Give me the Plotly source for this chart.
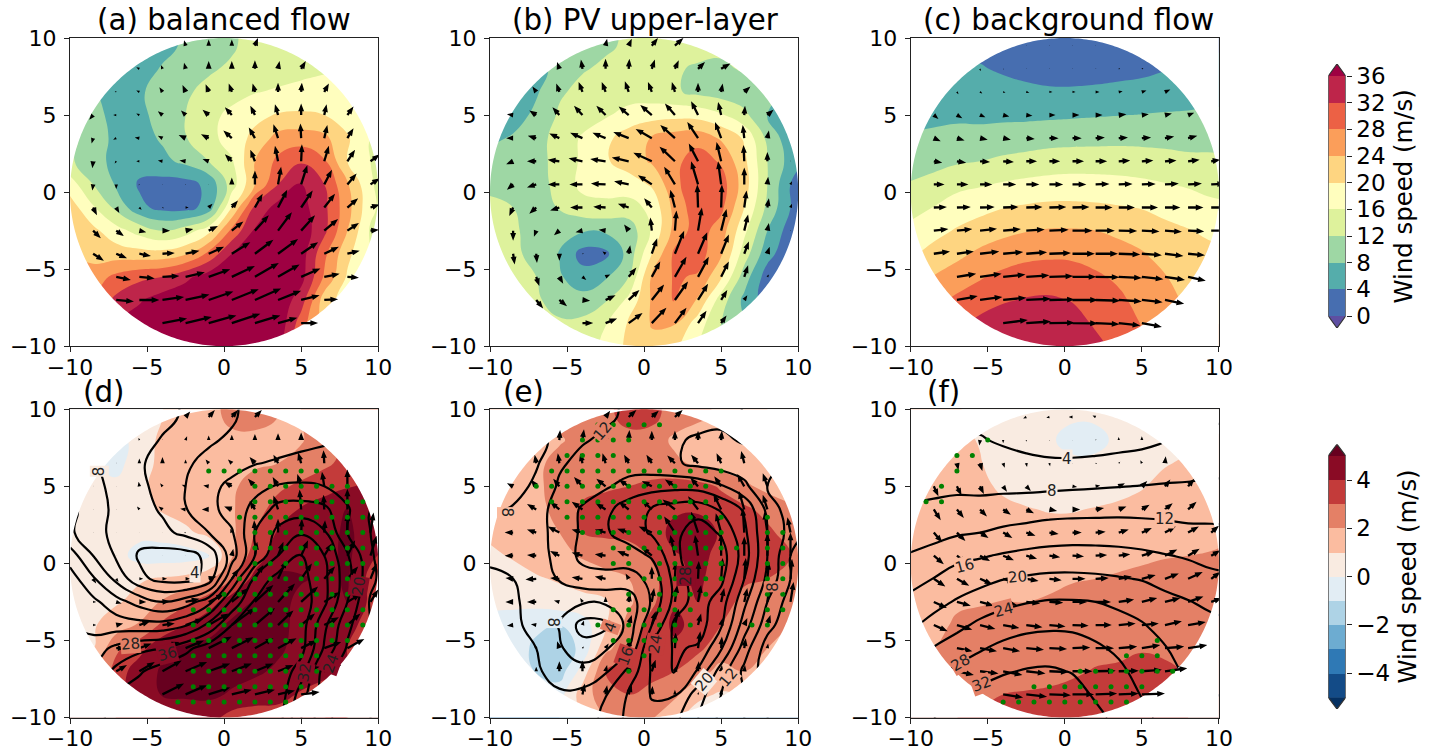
import math
import numpy as np
import plotly.graph_objects as go

W, H = 1438, 756
GRID_X = [-10, -8.5, -7, -5.5, -4, -2.5, -1, 0.5, 2, 3.5, 5, 6.5, 8, 9.5, 11]
GRID_Y = [11, 9.5, 8, 6.5, 5, 3.5, 2, 0.5, -1, -2.5, -4, -5.5, -7, -8.5, -10]
ARROW_X = [-8.5, -7, -5.5, -4, -2.5, -1, 0.5, 2, 3.5, 5, 6.5, 8, 9.5]
ARROW_Y = [9.5, 8, 6.5, 5, 3.5, 2, 0.5, -1, -2.5, -4, -5.5, -7, -8.5]
ARROW_START = [4, 2, 1, 0, 0, 0, 0, 0, 0, 0, 1, 1, 3]

speed_levels = [0, 4, 8, 12, 16, 20, 24, 28, 32, 36]
speed_colours = ["#5e4fa2", "#476eb0", "#55adab", "#9ed7a4", "#def29c", "#fffebe",
                 "#fed581", "#fb9e5a", "#ec6145", "#be254a", "#9e0142"]
diff_levels = [-5, -4, -3, -2, -1, 0, 1, 2, 3, 4, 5]
diff_colours = ["#053061", "#134b87", "#2f79b5", "#6dacd1", "#aed3e6", "#e2edf4",
                "#f9ebe1", "#fbbca0", "#e48066", "#c33b3a", "#8a0b25", "#67001f"]

field_a = [
    [7.5, 7, 6.5, 6.5, 7, 8.5, 10, 11.5, 13.5, 14.5, 15, 15.5, 16, 16, 16],
    [7.5, 7, 6.5, 6.5, 8.3, 9.5, 11.5, 12.6, 13.5, 14.2, 15, 15.5, 16, 16, 16],
    [8.5, 8.3, 6.5, 7.5, 9.5, 11.5, 13, 14.5, 15.8, 16.5, 17, 17.5, 17.5, 17, 16.5],
    [10.5, 9.5, 6.5, 7, 9.5, 12, 14.8, 17, 19, 20.3, 20.6, 20, 18, 16.5, 16],
    [13, 10, 7, 6.5, 8.5, 11.8, 14.5, 18, 21, 25.5, 26, 25, 20.5, 16, 14],
    [12.5, 10, 6.5, 5.5, 7, 9, 12, 15.5, 24, 29, 31.5, 28.5, 20, 16, 14],
    [18, 12, 7.5, 3.5, 2.5, 2.5, 5, 14, 24, 32, 36.5, 32, 24.5, 16.5, 13],
    [22, 16.5, 11, 5, 2.8, 2.5, 5.5, 20, 33, 37.5, 37.5, 33, 25.5, 17, 13],
    [24, 21, 17.5, 14.5, 12, 14, 18.5, 29, 36.5, 39, 38.5, 33, 24, 15.5, 13],
    [24, 22.5, 22, 21.5, 21.5, 23.5, 29, 36, 39, 40, 38, 29, 21, 16, 13],
    [27, 26, 29, 31, 32, 35, 38, 39, 40, 39.5, 37.5, 27.5, 19.5, 16, 13],
    [29, 29, 33, 35.5, 38, 39, 40, 40, 40, 39, 34, 22, 18, 16, 13],
    [32, 34, 36, 38, 40, 40, 40, 40, 40, 39, 30, 22, 18, 16, 13],
    [34, 35, 37, 39, 40, 40, 40, 40, 40, 38, 28, 21, 18, 16, 13],
]
field_b = [
    [9, 9, 9, 10, 11, 11.5, 12.5, 13.5, 14, 14, 13, 12, 12, 12, 12],
    [7, 7, 7, 9, 11.7, 12.6, 13, 13, 12.6, 11.3, 11.2, 12.5, 13, 13, 13],
    [6, 6, 7.5, 11.5, 13, 13.5, 14, 13.5, 12.5, 11, 10, 9.5, 9, 8, 8],
    [5, 6, 9, 12.5, 14, 15.5, 17.5, 18.5, 18.8, 18.5, 16.5, 13, 8, 6, 6],
    [7, 8.5, 10.5, 13.5, 16.5, 19, 22, 24.3, 26, 26.5, 23.5, 19.5, 11, 5.5, 4],
    [10, 10, 10, 14, 16.5, 19.5, 22, 24.5, 27, 30, 27.5, 21, 12, 6.5, 2],
    [11, 10, 10, 13.5, 17, 17.5, 18, 20.5, 27, 31, 30, 22, 12, 4, 1],
    [13, 12, 10, 12.3, 14.5, 15, 14.5, 17, 25.5, 30.5, 29, 20, 11, 4, 1],
    [14, 12.8, 10, 9, 8.5, 8.7, 9.5, 16.5, 25.5, 30, 26, 17, 8, 2, 0],
    [14, 13, 10.5, 7.8, 2.5, 3, 9.5, 20, 29, 30, 24.5, 14, 5.5, 1, 0],
    [14, 14, 12, 8.5, 5.5, 7.5, 12, 24.5, 28.5, 27.5, 20.5, 10, 2, 0, 0],
    [14, 14, 12.5, 10.5, 9.5, 11.5, 17, 24.5, 28.5, 23.5, 14, 7, 2, 0, 0],
    [14, 14, 14, 12.5, 13, 15.8, 20.5, 24.3, 24.3, 18, 12, 8, 4, 2, 0],
    [14, 14, 14, 13, 14, 17, 21, 23, 21, 16, 11, 8, 4, 2, 0],
]
field_c = [
    [3.5, 3.5, 3, 3, 2.5, 2, 2, 2, 2, 2.2, 2.5, 2.8, 3, 3.5, 3.5],
    [5, 4.8, 4.6, 4.3, 3.5, 2.8, 2.5, 2.4, 2.5, 2.8, 3, 3.8, 4.5, 5, 5],
    [6, 6, 6, 5.8, 5.4, 4.9, 4.5, 4.5, 4.7, 5, 5.5, 6, 6.4, 7, 7],
    [7, 7.2, 7.4, 7.2, 7.2, 7.2, 7.3, 7.5, 7.7, 7.9, 8.1, 8.3, 8.4, 8.5, 8.5],
    [8.4, 8.7, 9, 9.2, 9.7, 10, 10.5, 10.7, 10.8, 10.9, 10.9, 10.8, 10.5, 10.7, 10.6],
    [10.3, 10.8, 11.5, 12, 12.8, 13.4, 13.9, 14.1, 14.1, 14.1, 13.8, 13.4, 13, 12.8, 12.7],
    [12.3, 13.3, 15, 15.6, 16.4, 17, 17.4, 17.6, 17.5, 17.2, 16.8, 16.2, 15.6, 15, 14.7],
    [14.7, 16.1, 17.7, 18.8, 19.9, 20.5, 20.9, 20.9, 20.7, 20.3, 19.8, 18.9, 17.9, 16.8, 16.5],
    [17, 18.7, 20.4, 21.8, 23, 23.8, 24.3, 24.3, 24, 23.2, 22.3, 21, 20.2, 19.2, 18.6],
    [19.3, 21.4, 23, 24.8, 26, 27, 27.3, 27.2, 26.5, 25.4, 24.3, 22.6, 21.2, 21, 20.5],
    [22, 24.2, 25.9, 27.6, 29, 29.7, 30, 29.7, 28.6, 27.3, 25.5, 24.2, 22.4, 22, 22],
    [25, 26.8, 28.8, 30.2, 31.6, 32.3, 32.5, 31.8, 30, 28.8, 26.7, 25, 23.5, 23, 23],
    [28, 29.5, 31, 33, 34, 34.5, 34.5, 33.5, 31.5, 30, 27.8, 26, 24.5, 24, 24],
    [31, 32, 34, 36, 36, 36, 36, 35, 33, 31, 29, 27, 25, 25, 25],
]
field_d = [
    [.5, .3, .2, .3, 1, 1.3, 1.6, 2.3, 2.4, 2, 2, 2.5, 3, 3, 3],
    [-.2, -.2, -.3, .3, 1.3, 1.6, 1.7, 1.7, 1.7, 1.7, 1.9, 2.7, 3, 3, 3],
    [.3, 0, -.3, .5, 1.3, 1.5, 1.6, 1.7, 1.8, 2, 2.4, 2.8, 3.3, 3.5, 3.5],
    [.5, .3, .2, .8, 1.3, 1.5, 1.6, 1.8, 2.5, 2.8, 3.2, 3.6, 3.9, 4, 4],
    [.4, .4, .4, .6, 1.1, 1.4, 1.6, 1.9, 2.6, 3.4, 4.1, 4.5, 5.1, 4.5, 4],
    [.7, .5, .3, .3, .4, .8, 1.3, 1.8, 3, 4.1, 4.5, 4.6, 5.2, 4.5, 4],
    [.8, .7, .4, -.4, -.5, -.5, -.2, 1.9, 3.5, 4.5, 4.6, 4.7, 5.2, 4.2, 3.5],
    [.7, .7, .7, .9, 1.1, 1.3, 1.8, 3, 4.3, 5.2, 5.1, 4.8, 5.1, 3.7, 3],
    [.7, .8, .9, 1.3, 2.1, 2.8, 3.6, 4.5, 5.1, 5.4, 4.7, 4.6, 5, 3.8, 3],
    [.8, .9, 1.5, 2.1, 3.2, 4, 4.6, 5.2, 5.3, 5.4, 4.6, 4.5, 4.4, 3.5, 3],
    [1, 1, 2.8, 3.6, 4.8, 5.2, 5.3, 5.3, 5.3, 5.2, 4.6, 4.4, 4, 3.5, 3],
    [2, 2, 3.4, 4.6, 5.1, 5.5, 5.4, 5.3, 5.2, 4.8, 4.5, 4.3, 4, 3.5, 3],
    [3, 3, 3.7, 4.3, 5.1, 5.2, 5.2, 4.9, 4.5, 4.3, 3.9, 3.5, 3.5, 3, 3],
    [3, 3, 3, 3.7, 3.9, 4.2, 4.4, 3.6, 3.5, 3.6, 3.5, 3, 3, 3, 3],
]
field_e = [
    [1.5, 1.5, 2, 2.3, 2.5, 2.7, 3.4, 3.3, 2.5, 2.2, 1.8, 1.5, 1, 1, 1],
    [1, 1, 1.4, 1.9, 2.3, 2.5, 2.6, 2.5, 1.8, 1.4, 1.6, 1.3, 1, 1, 1],
    [1.5, 1.5, 1.8, 2.3, 2.5, 2.6, 2.6, 2.5, 2.2, 1.8, 1.5, 1.4, .9, .9, .9],
    [1.3, 1.3, 1.8, 2.4, 2.7, 2.8, 3, 3.2, 3.4, 3.3, 2.9, 2.2, 1.7, 1.5, 1.5],
    [1.4, 1.4, 1.8, 2.2, 3.2, 3.6, 3.7, 3.5, 3.8, 3.9, 3.4, 3.2, 2.7, 2.2, 2],
    [1.2, 1.3, 1.5, 2, 3, 3.2, 3.3, 3.4, 4.4, 4.4, 3.9, 3.6, 3.2, 2.6, 2.5],
    [.8, 1.1, 1.4, 1.7, 2.1, 2.4, 2.5, 3.1, 3.9, 4.3, 3.7, 3.5, 3.2, 3, 2.5],
    [.5, .6, .9, 1.1, 1.4, 1.7, 2, 2.7, 3.7, 4.2, 3.5, 3.1, 3, 2.5, 2],
    [.2, .2, .3, .6, .7, .9, 1.8, 2.8, 3.9, 4, 3.3, 2.8, 2.4, 2.2, 2],
    [-.3, -.4, -.7, -1, -.5, .9, 2.4, 3.4, 4.2, 3.7, 3, 2.5, 2.2, 2, 2],
    [-.2, -.3, -1.3, -1.7, -.7, 1.7, 2.7, 3.6, 3.8, 3.2, 2.5, 2.2, 2, 2, 2],
    [-.2, -.2, -1.1, -1.5, .4, 3, 3.3, 3.3, 3, 2.4, 1.7, 2, 1.8, 1.8, 1.8],
    [0, 0, 0, -.4, 1.5, 2.6, 3, 2.7, 2.2, 1.2, .9, 1, 1, 1, 1],
    [0, 0, 0, 0, 1, 2, 2.3, 2.1, 1.2, .6, .5, 1, 1, 1, 1],
]
field_f = [
    [1.2, 1.2, 1.1, .7, .3, .2, .2, .2, .2, .3, .5, .7, .8, 1, 1],
    [1.2, 1.2, 1.2, .95, .4, .3, .2, -.5, -.4, .3, .5, .7, .85, 1, 1.1],
    [1.2, 1.3, 1.2, 1.05, .6, .4, .3, .3, .3, .45, .6, .95, 1.1, 1.2, 1.3],
    [1.3, 1.3, 1.3, 1.2, .85, .7, .6, .6, .6, .75, .95, 1.2, 1.3, 1.4, 1.5],
    [1.3, 1.3, 1.3, 1.3, 1.2, 1.05, .95, .95, 1.05, 1.15, 1.25, 1.35, 1.5, 1.6, 1.7],
    [1.4, 1.4, 1.4, 1.4, 1.4, 1.3, 1.3, 1.3, 1.35, 1.4, 1.5, 1.6, 1.7, 1.8, 1.9],
    [1.4, 1.5, 1.5, 1.5, 1.5, 1.5, 1.55, 1.6, 1.7, 1.75, 1.85, 1.95, 2, 2.05, 2.2],
    [1.5, 1.5, 1.6, 1.65, 1.7, 1.75, 1.8, 1.95, 2, 2.1, 2.2, 2.3, 2.4, 2.4, 2.5],
    [1.6, 1.6, 1.9, 1.95, 2, 2, 2.1, 2.2, 2.3, 2.4, 2.5, 2.5, 2.6, 2.6, 2.7],
    [1.7, 1.8, 2.1, 2.2, 2.3, 2.3, 2.4, 2.5, 2.6, 2.65, 2.7, 2.7, 2.8, 2.8, 2.8],
    [1.9, 2, 2.3, 2.4, 2.5, 2.5, 2.6, 2.7, 2.8, 2.85, 2.95, 2.9, 2.9, 2.9, 2.9],
    [2.1, 2.2, 2.5, 2.6, 2.7, 2.75, 2.8, 2.9, 3.05, 3.1, 3.2, 3.1, 2.95, 2.9, 2.9],
    [2.3, 2.4, 2.8, 2.85, 3, 3.05, 3.1, 3.2, 3.3, 3.3, 3.3, 3.2, 3, 2.9, 2.9],
    [2.5, 2.5, 3, 3.1, 3.2, 3.3, 3.4, 3.4, 3.5, 3.3, 3.3, 3.2, 3, 2.9, 2.9],
]

arrows_a = [
    [(-1, 3.5), (0, 4), (0, 4), (2, 5)],
    [(-2, 1), (-1, 2.5), (-1, 4), (0, 5), (0, 5), (0, 5.5), (1, 5), (3, 5)],
    [(-1, .5), (-2, 1), (-2, 3), (-2, 4.5), (-2, 5), (-2, 5.5), (-1.5, 5.5), (0, 6), (.5, 6), (3, 5.5)],
    [(-2.5, -3), (-2, 0), (-2, 1), (-3, 2.5), (-3, 3), (-4, 3.5), (-4.5, 5), (-3, 6), (-2, 7), (0, 7.5), (1.5, 7), (4, 5.5)],
    [(-1, -3.5), (-2, -1), (-3, .5), (-3, 1.5), (-4.5, 2), (-5, 2.5), (-5.5, 5), (-4, 7), (-3, 9), (-.5, 9.5), (2, 8.5), (4, 6.5)],
    [(-.5, -4.5), (-1, -1.5), (-2, 0), (-3, .5), (-4, .5), (-4, 1.5), (-4.5, 4.5), (-3, 7.5), (-2, 10), (.5, 11), (3, 10), (5, 7.5), (6, 4.5)],
    [(-.5, -4), (0, -3), (-.5, -.5), (.4, 0), (-.5, 0), (.4, 0), (0, 4.5), (0, 9), (2, 11.5), (4, 12.5), (5, 9.5), (6, 7), (6, 4)],
    [(2.5, -5), (2, -3.5), (1.5, -1.5), (1, -.5), (2, 0), (2.5, 2.5), (4, 4.5), (5, 9), (6, 11.5), (7.5, 11), (7, 9), (7, 6), (6, 2)],
    [(5, -5), (5, -3.5), (4.5, -1), (5, 0), (5, 1), (6, 3), (7.5, 6), (9, 10), (9, 12), (9, 10), (9, 7.5), (7.5, 5), (5.5, .5)],
    [(7, -4.5), (7, -3), (7.5, -1.5), (8, .5), (9, 2), (10, 4.5), (12, 7.5), (12, 9), (13, 9.5), (11, 7.5), (9.5, 4.5), (8, 2)],
    [(9.5, -2), (10, -1), (11, .5), (12.5, 3), (14, 5), (15, 7), (15.5, 9), (14, 8), (12.5, 5.5), (10, 2), (7.5, -.5)],
    [(11.5, -1), (13, 0), (14, 2), (15.5, 3.5), (16, 5.5), (17.5, 7), (17, 7.5), (15, 6), (12, 3), (9, .5)],
    [(16, 3), (17, 4), (18, 5), (18.5, 6), (16.5, 5), (12.5, 3.5), (11, 0)],
]
arrows_b = [
    [(1, 4.5), (2, 4.5), (4, 5), (5.5, 5)],
    [(-1.5, 4.5), (-1, 6), (0, 6.5), (.5, 6.5), (2, 6), (2.5, 5.5), (4.5, 4.5), (6, 3.5)],
    [(-2.5, 3.5), (-2, 5.5), (-2.5, 6.5), (-2.5, 6.5), (-2.5, 7), (-2.5, 6.5), (-2, 6.5), (0, 6), (1, 5.5), (4, 3.5)],
    [(-4, .5), (-4.5, 3), (-4.5, 5), (-5.5, 6), (-6, 6), (-6.5, 5.5), (-7.5, 6.5), (-6.5, 7.5), (-4.5, 9), (-2, 8.5), (.5, 6), (4, 3.5)],
    [(-4.5, 0), (-5.5, 1.5), (-6.5, 3), (-8, 3.5), (-8.5, 3.5), (-10, 4), (-10.5, 6), (-9.5, 8.5), (-7, 10.5), (-4, 10.5), (-1, 8.5), (1, 5)],
    [(-4.5, -2), (-6, 0), (-7.5, 1), (-9, 2), (-10, 1.5), (-11, 2.5), (-12, 5.5), (-10, 9.5), (-6, 11.5), (-3, 12.5), (-.5, 10.5), (0, 6), (0, .5)],
    [(-4, -3.5), (-6, -2), (-7.5, 0), (-8.5, 0), (-9.5, .5), (-9.5, 2), (-9, 6), (-7, 11.5), (-4.5, 15), (-2, 15), (0, 11), (.5, 5), (1, 2)],
    [(-2.5, -5.5), (-4.5, -4), (-6, -2), (-8, 0), (-8, .5), (-7, 2.5), (-5, 6), (-3, 11.5), (-.5, 15), (.5, 15), (1.5, 11), (1, 6), (1, 2.5)],
    [(0, -6.5), (-1.5, -4), (-3.5, -3), (-4.5, -1), (-4.5, .5), (-3, 4), (-1, 8.5), (1, 13), (2.5, 15), (3.5, 14), (2.5, 10.5), (1, 5), (0, .5)],
    [(1, -7), (.5, -6), (0, -4.5), (1, 0), (-2, 1.5), (1, 5.5), (3.5, 10), (6, 15), (6, 14), (5, 12.5), (3, 8), (1.5, 4.5)],
    [(2, -6), (2.5, -4.5), (2.5, -2), (3, 1.5), (5, 6), (5.5, 10), (7.5, 13), (7, 13), (5, 10), (2.5, 7.5), (1, 1.5)],
    [(4.5, -5.5), (5, -4), (5, -.5), (6.5, 3), (7, 6.5), (8, 10), (8.5, 12), (6.5, 10.5), (4, 6.5), (2, 3)],
    [(7, 0), (7.5, 3), (9, 6.5), (9.5, 10), (7.5, 10), (5.5, 8), (3.5, 5)],
]
arrows_c = [
    [(.4, 0), (.4, 0), (.4, 0), (.4, 0)],
    [(.3, -1.5), (.5, -.5), (.4, 0), (.4, 0), (.4, 0), (.5, 0), (1, .2), (1, .5)],
    [(1, -1.5), (1.5, -1), (1.5, -.5), (2, -.5), (2, 0), (2, 0), (2.5, 0), (2.5, .5), (3, 1), (3.5, 1.5)],
    [(3, -2.5), (3.5, -2), (3.5, -1.5), (4, -1), (4, -.5), (4, 0), (4.5, 0), (4.5, 0), (5, .5), (4.5, .5), (4.5, 1), (4, 1.5)],
    [(4.5, -2), (5, -1.5), (5, -1), (5, -1), (5.5, -.5), (6, 0), (6, 0), (6, .5), (6, .5), (6, .5), (6, 1), (6, 1.5)],
    [(5.5, -1), (6, -1), (6.5, -.5), (7, -.5), (7, 0), (7, 0), (7.5, 0), (7.5, 0), (7.5, .5), (7.5, .5), (7.5, .5), (7.5, 1), (6, 1)],
    [(7, 0), (7.5, 0), (8, 0), (8.5, 0), (8.5, 0), (9, 0), (9, 0), (9, .3), (9, .3), (9, .3), (9, .5), (9, .5), (9, .5)],
    [(8.5, .3), (9, .3), (9.5, .3), (10, .3), (10.5, .3), (11, .3), (11, .3), (11, 0), (10.5, 0), (10.5, 0), (10, 0), (10, 0), (10, 0)],
    [(9.5, 1), (10, 1), (11, 1.2), (11.5, 1), (12, .8), (12.5, .5), (13, 0), (12.5, 0), (12, -.2), (11.5, -.5), (11, -.8), (10.5, -.5), (10.5, 0)],
    [(10.5, 1.5), (11, 1.5), (12.5, 1.5), (13, 1.2), (13.5, 1), (14, .5), (14.5, 0), (14.5, 0), (14, -.5), (13, -1), (12, -1.5), (11, -1)],
    [(12.5, 2), (14, 2), (14.5, 1.5), (15, 1), (15.5, .5), (15.5, 0), (15.5, -.3), (15, -.8), (14, -1.5), (13, -2), (11.5, -2.5)],
    [(13.5, 2.5), (14.5, 2), (15, 1.5), (16, .8), (16.5, .3), (16.5, 0), (16, -.5), (15, -1), (13.5, -1.5), (12.5, -2.5)],
    [(16, 2), (16, 1), (16.5, .2), (16.5, -.2), (15.5, -.8), (14, -1.5), (13, -2.5)],
]
arrows_d = [
    [(3, 3.5), (4, 4.5), (4, 4.5), (4.5, 4.5)],
    [(-.5, 1.5), (0, .5), (1, 2.5), (0, 3), (0, 3.5), (0, 4), (0, 4.5), (0, 5)],
    [(0, .4), (0, 3), (0, 4), (0, 2.5), (-2, 2.5), (-2.5, 2.5), (-3.5, 4), (-3, 5.5), (-2, 7), (-.5, 8.5)],
    [(0, .4), (0, .4), (-.5, 3), (-1.5, 2), (-2.5, 1), (-3.5, .5), (-5, 3), (-4.5, 5), (-3.5, 6), (-2.5, 8), (-1.5, 9.5), (0, 11)],
    [(.3, 0), (.3, 0), (-1.5, 2), (-2.5, 2), (-3.5, .5), (-4.5, 0), (-5, 2), (-3.5, 5.5), (-3, 9), (-1, 13), (-.5, 9.5), (0, 13.5)],
    [(0, .4), (.3, 0), (.3, 0), (.3, 0), (-1, 0), (-1, 0), (-1, 2.5), (-.5, 8), (0, 9), (.5, 9), (.5, 8), (0, 12.5), (2, 13)],
    [(0, -1), (.3, 0), (.3, 0), (.3, 0), (.3, 0), (.3, 0), (1, 4.5), (1.5, 9), (3.5, 9), (4.5, 10), (5, 8), (5, 10), (4, 13)],
    [(2, -3), (1.5, -2), (2.5, 0), (3, 0), (3, 0), (5, 1.5), (4.5, 6.5), (5.5, 9), (5.5, 12), (7, 10), (7, 8), (7, 8), (4, 10)],
    [(2, 0), (3.5, -1), (4.5, 0), (5, .5), (9, 2), (10, 5), (11, 9), (12, 11), (11, 12), (11, 10), (10, 6.5), (8.5, 5), (5, 8)],
    [(2, 0), (4.5, 1), (7, 2.5), (8, 1), (11.5, 4), (13, 7.5), (15, 11), (13, 11), (10, 9.5), (9, 7.5), (9.5, 5), (8.5, 7.5)],
    [(6, 0), (8, 3), (11, 4), (12, 5), (15, 7.5), (14, 7), (12, 6.5), (12, 6.5), (10, 5), (11, 4), (11, 6)],
    [(7, 4), (10, 6), (12.5, 7), (14, 6), (14, 5), (13, 5), (12, 5), (10, 4), (12, 3), (11, 4)],
    [(14, 7), (14, 6), (14, 4.5), (13, 3), (13, 3), (11, 2.5), (12, 1.5)],
]
arrows_e = [
    [(3, 4), (5, 4.5), (4.5, 4), (5, 4.5)],
    [(.5, 6.5), (1, 7), (.5, 6), (.5, 6.5), (0, 6), (0, 6), (0, 6), (.5, 6)],
    [(-1, 5.5), (-1, 6.5), (-1.5, 6.5), (-2, 6.5), (-3, 5.5), (-3.5, 5.5), (-5, 5), (-4.5, 5.5), (-3, 6.5), (-2, 8)],
    [(-4, 2), (-3.5, 4.5), (-4, 5), (-5.5, 6), (-6, 5), (-6.5, 4.5), (-6.5, 3.5), (-6.5, 4.5), (-5, 5.5), (-4.5, 6.5), (-4.5, 8), (-3, 8.5)],
    [(-4.5, .5), (-6, 3.5), (-6, 5), (-7, 5), (-6.5, 4), (-6.5, 5), (-6.5, 6), (-8, 6.5), (-6.5, 8.5), (-5, 10), (-3.5, 12), (-3, 9.5)],
    [(-5.5, 0), (-6, 2), (-7.5, 4), (-7, 2), (-7, 2), (-7.5, 2.5), (-8.5, 4), (-7, 10.5), (-4.5, 13.5), (-3.5, 12.5), (-1, 16), (-2, 13.5), (-2, 10)],
    [(-5.5, 0), (-6, .5), (-6, 3), (-7, 2), (-7, 1), (-7.5, 3), (-6.5, 5.5), (-3, 13.5), (-2, 13.5), (0, 14.5), (0, 12.5), (0, 14.5), (0, 15)],
    [(-5, .5), (-7, -.5), (-6, .5), (-7, 1), (-7, 1.5), (-2, 3.5), (0, 8), (.5, 11), (.5, 11.5), (1, 13.5), (1, 13.5), (1, 11), (1, 13)],
    [(-5, 0), (-6, 0), (-3.5, 1), (-1.5, 2.5), (0, 3.5), (1, 5.5), (1.5, 9), (1.5, 11), (2, 11), (2, 9), (2, 9), (1.5, 11), (2, 13)],
    [(-4, -.5), (-3.5, .5), (-2.5, 0), (1, 3), (3, 3), (2, 6.5), (2.5, 9), (2.5, 10.5), (2, 7.5), (1, 4.5), (2, 4.5), (2, 6.5)],
    [(-1.5, 2), (-1.5, 4.5), (1, 1), (2, 3), (1, 6.5), (2.5, 10), (.5, 10), (1.5, 11), (.5, 7.5), (1, 6.5), (.5, 3)],
    [(0, 3), (0, 6.5), (0, 7), (1, 4), (1, 5), (2.5, 7.5), (1.5, 4), (.5, 6.5), (.5, 4), (.5, 4)],
    [(1.5, 7), (1, 6), (2, 6.5), (.5, 5.5), (0, 3), (.5, 1.5), (0, 3.5)],
]
arrows_f = [
    [(-2, -1), (-2, -.5), (-2.5, 0), (-2, 1)],
    [(-.5, -3.5), (0, -2), (0, -1), (0, -.5), (.4, 0), (.5, .5), (0, 2), (0, 2.5)],
    [(1, -4.5), (1.5, -5), (1, -3), (.5, -2.5), (.5, -2), (0, -.5), (1, -.5), (1, 1), (-1, 2), (.5, 4.5)],
    [(3, -6.5), (3, -6), (2.5, -5), (2.5, -3.5), (3, -3), (2, -2), (3, -.5), (3, .5), (4, 2), (3.5, 3.5), (3.5, 4.5), (4, 5)],
    [(4.5, -7), (4.5, -5.5), (4.5, -4.5), (5, -3.5), (5, -2.5), (5, -1), (5, 0), (5.5, 1), (5, 2), (5, 3), (5, 4), (5.5, 5)],
    [(5.5, -6.5), (5.5, -5.5), (5.5, -3.5), (6, -3.5), (6, -2), (6, -1), (6, 0), (6.5, .5), (6.5, 2), (6.5, 3), (7, 4), (7, 4), (5, 4.5)],
    [(6.5, -5.5), (6.5, -5), (6.5, -3.5), (7, -3), (7, -2), (7, -1), (7.5, -.5), (7.5, .5), (7.5, 1), (8, 2.5), (8, 4), (7.5, 4.5), (6, 3.5)],
    [(7.5, -5), (8, -4.5), (8, -3.5), (8, -2.5), (8, -1.5), (8, -1), (8.5, 0), (8.5, .5), (8.5, 1.5), (9, 2.5), (9, 3.5), (9.5, 4.5), (6, 4.5)],
    [(8.5, -4), (9, -2.5), (9, -2.5), (9, -2), (9, -1), (9, -.5), (9.5, 0), (10, 0), (10, 1.5), (10, 2.5), (10, 2.5), (10, 3.5), (7, 2.5)],
    [(9, -4), (10, -3), (10, -2.5), (10.5, -2), (10.5, -1.5), (10.5, -1), (10.5, -.5), (10.5, 0), (11, 1), (11, 1), (11, 2.5), (11.5, 2)],
    [(10, -2), (11, -2), (11, -2), (11.5, -1), (11.5, -.5), (11.5, .5), (12, 0), (12, 1), (12, 2), (12.5, 1), (12.5, 2)],
    [(11, -2.5), (12, -1.5), (12.5, -2.5), (12.5, -1.5), (12.5, -.5), (13, 0), (13, .3), (13, .3), (13, 1), (14.5, 2)],
    [(13, -2), (13.5, -1.5), (14, -.5), (14, 0), (14, .5), (13, .5), (15, .5)],
]

dots_d_y = [6, 5, 4, 3, 2, 1, 0, -1, -2, -3, -4, -5, -6, -7, -8, -9]
dots_d_x = [
    [-1, 0, 1, 2, 3, 4, 5, 6],
    [2, 3, 4, 5, 6, 7, 8],
    [2, 3, 4, 5, 6, 7, 8, 9],
    [1, 2, 3, 4, 5, 6, 7, 8, 9],
    [2, 3, 4, 5, 6, 7, 8, 9],
    [2, 3, 4, 5, 6, 7, 8, 9],
    [2, 3, 4, 5, 6, 7, 8, 9],
    [1, 2, 3, 4, 5, 6, 7, 8, 9],
    [0, 1, 2, 3, 4, 5, 6, 7, 8, 9],
    [-2, -1, 0, 1, 2, 3, 4, 5, 6, 7, 8, 9],
    [-2, -1, 0, 1, 2, 3, 4, 5, 6, 7, 8, 9],
    [-2, -1, 0, 1, 2, 3, 4, 5, 6, 7, 8],
    [-2, -1, 0, 1, 2, 3, 4, 5, 6],
    [-2, -1, 0, 1, 2, 3, 4, 5, 6, 7],
    [-2, -1, 0, 1, 2, 3, 4, 5],
    [-3, -2, -1, 0, 1, 2, 3, 4],
]
dots_e_y = [9, 8, 7, 6, 5, 4, 3, 2, 1, 0, -1, -2, -3, -4, -5, -6, -7]
dots_e_x = [
    [-3, -2, -1, 0, 1],
    [-4, -3, -2, -1],
    [-5, -4, -3, -2],
    [-6, -5, -4, -3, -2, -1, 0, 1, 2, 3, 4, 5],
    [-7, -6, -5, -4, -3, -2, -1, 0, 1, 2, 3, 4],
    [-6, -5, -4, -3, -2, -1, 0, 1, 2, 3, 4],
    [-5, -4, -3, -2, -1, 0, 1, 2, 3, 4, 5, 8],
    [-4, -3, -2, -1, 1, 2, 3, 4, 5, 8, 9],
    [-2, -1, 0, 1, 2, 3, 4, 5, 6, 8, 9],
    [-2, -1, 1, 2, 3, 4, 5, 8, 9],
    [0, 1, 2, 3, 4, 5, 8, 9],
    [-1, 1, 2, 3, 4, 8, 9],
    [-2, -1, 0, 1, 2, 3, 8, 9],
    [-3, -1, 0, 1, 2, 3, 7, 8],
    [-2, -1, 0, 1, 2],
    [0],
    [-1],
]
dots_f_y = [8, 7, 6, 5, 4, -5, -6, -7, -8, -9]
dots_f_x = [
    [-5],
    [-7, -6],
    [-7],
    [-8],
    [-9, -8],
    [6],
    [4, 5, 6],
    [1, 2, 3, 4, 5, 6, 7],
    [-2, -1, 0, 1, 2, 3, 4, 5],
    [-4, -3, -2, -1, 0, 1, 2, 3, 4],
]

labels_d = [("8", -8.1, 6.0, -90, .5), ("4", -1.9, -.6, 0, .5), ("28", -6.05, -5.25, -5, 2.5),
            ("36", -3.7, -5.9, -15, 4.5), ("32", 5.2, -7.1, -80, 4.5), ("24", 6.9, -6.5, -70, 4.5),
            ("20", 8.7, -1.5, -80, 4.5)]
labels_e = [("12", -2.7, 8.6, -50, 2.5), ("8", -8.9, 3.3, 90, 1.5), ("8", 8.4, -1.55, -90, 2.5),
            ("28", 2.7, -.8, -90, 4.5), ("8", -5.9, -3.85, 90, -.5), ("4", -2.2, -4.1, -70, 2.5),
            ("16", -1.2, -6, -70, 3.5), ("24", .7, -5.2, -80, 3.5), ("20", 3.9, -7.7, -50, .5),
            ("12", 5.5, -7.4, -50, 1.5)]
labels_f = [("4", .15, 6.8, 0, .5), ("8", -.8, 4.7, 0, .5), ("12", 6.5, 2.9, 0, 1.5),
            ("16", -6.5, -.15, -15, 1.5), ("20", -3.1, -.9, -5, 1.5), ("24", -4, -3, -15, 2.5),
            ("28", -6.8, -6.45, -30, 2.5), ("32", -5.4, -7.85, -20, 2.5)]

titles = ["(a) balanced flow", "(b) PV upper-layer", "(c) background flow", "(d)", "(e)", "(f)"]
title_px = [(224, 20), (645, 20), (1068, 20), (103, 392), (523, 392), (943, 392)]
panel_left = [70, 490, 910.7]
panel_top = [38, 409.3]
PANEL = 308.2


def dom_x(a, b):
    return [a / W, b / W]


def dom_y(top, bottom):
    return [1 - bottom / H, 1 - top / H]


def scale(colours):
    n = len(colours) - 1
    return [[i / n, c] for i, c in enumerate(colours)]


def arrow_path(rows):
    xs, ys = [], []
    for r, row in enumerate(rows):
        for c, (u10, v10) in enumerate(row):
            x0, y0 = ARROW_X[ARROW_START[r] + c], ARROW_Y[r]
            u, v = u10 / 10, v10 / 10
            L = math.hypot(u, v)
            if L == 0:
                continue
            k = min(1.0, L / 0.5)
            hl, hw, sw = 0.5 * k, 0.19 * k, 0.075 * k
            ax, ay = u / L, v / L
            nx, ny = -ay, ax
            pts = [(0, sw), (L - hl, sw), (L - hl, hw), (L, 0), (L - hl, -hw), (L - hl, -sw), (0, -sw), (0, sw)]
            for a, p in pts:
                xs.append(x0 + a * ax + p * nx)
                ys.append(y0 + a * ay + p * ny)
            xs.append(None)
            ys.append(None)
    return xs, ys


def ring():
    t = np.linspace(0, 2 * np.pi, 361)
    xs = [-10, 10, 10, -10, -10, 0] + list(-10 * np.sin(t)) + [0, -10]
    ys = [-10, -10, 10, 10, -10, -10] + list(-10 * np.cos(t)) + [-10, -10]
    return xs, ys


def grid(rows):
    arr = np.array(rows, dtype=float)
    return np.vstack([arr[0], arr])[::-1]


yg = GRID_Y[::-1]
fig = go.Figure()
layout = {}
annotations = []

panels = [
    (field_a, None, arrows_a, None, None, None, speed_levels, speed_colours),
    (field_b, None, arrows_b, None, None, None, speed_levels, speed_colours),
    (field_c, None, arrows_c, None, None, None, speed_levels, speed_colours),
    (field_d, field_a, arrows_d, dots_d_x, dots_d_y, labels_d, diff_levels, diff_colours),
    (field_e, field_b, arrows_e, dots_e_x, dots_e_y, labels_e, diff_levels, diff_colours),
    (field_f, field_c, arrows_f, dots_f_x, dots_f_y, labels_f, diff_levels, diff_colours),
]
AX = dict(showgrid=False, zeroline=False, showline=True, mirror=True, linecolor="#222", linewidth=1.2,
          ticks="outside", ticklen=5, tickwidth=1.2, tickcolor="#222", automargin=False,
          tickfont=dict(family="DejaVu Sans", size=22, color="black"),
          range=[-10, 10], tickvals=[-10, -5, 0, 5, 10])

for i, (fill, lines, arrows, dx, dy, labs, levels, colours) in enumerate(panels):
    n = i + 1
    xa, ya = f"x{n}", f"y{n}"
    L = panel_left[i % 3]
    T = panel_top[i // 3]
    layout[f"xaxis{n}"] = dict(AX, domain=dom_x(L, L + PANEL), anchor=ya, ticklabelstandoff=-4)
    layout[f"yaxis{n}"] = dict(AX, domain=dom_y(T, T + PANEL), anchor=xa, ticklabelstandoff=3)
    step = levels[1] - levels[0]
    fig.add_trace(go.Contour(x=GRID_X, y=yg, z=grid(fill), xaxis=xa, yaxis=ya, showscale=False,
                             colorscale=scale(colours), hoverinfo="skip", line=dict(width=0, smoothing=1.3),
                             autocontour=False,
                             contours=dict(start=levels[0], end=levels[-1], size=step,
                                           coloring="fill", showlines=False)))
    if lines is not None:
        fig.add_trace(go.Contour(x=GRID_X, y=yg, z=grid(lines), xaxis=xa, yaxis=ya, showscale=False,
                                 hoverinfo="skip", autocontour=False,
                                 line=dict(color="black", width=2.2, smoothing=1.3),
                                 contours=dict(start=4, end=36, size=4, coloring="none")))
    rx, ry = ring()
    fig.add_trace(go.Scatter(x=rx, y=ry, xaxis=xa, yaxis=ya, mode="none", fill="toself",
                             fillcolor="white", hoverinfo="skip", showlegend=False))
    ax_, ay_ = arrow_path(arrows)
    fig.add_trace(go.Scatter(x=ax_, y=ay_, xaxis=xa, yaxis=ya, mode="none", fill="toself",
                             fillcolor="black", hoverinfo="skip", showlegend=False))
    if dx is not None:
        px_, py_ = [], []
        for yy, row in zip(dy, dx):
            px_ += row
            py_ += [yy] * len(row)
        fig.add_trace(go.Scatter(x=px_, y=py_, xaxis=xa, yaxis=ya, mode="markers",
                                 marker=dict(color="#008000", size=5), hoverinfo="skip", showlegend=False))
    if labs is not None:
        for text, x, y, angle, band in labs:
            annotations.append(dict(text=text, x=x, y=y, xref=xa, yref=ya, showarrow=False, textangle=angle,
                                    font=dict(family="DejaVu Sans", size=15, color="#222"), borderpad=0,
                                    bgcolor=diff_colours[int(math.floor(band)) + 6]))
    annotations.append(dict(text=titles[i], x=title_px[i][0] / W, y=1 - title_px[i][1] / H, xref="paper",
                            yref="paper", showarrow=False, xanchor="center", yanchor="middle",
                            font=dict(family="DejaVu Sans", size=29.3, color="black")))

bars = [
    (speed_levels, speed_colours, 64, 328, list(range(0, 37, 4)), 1.8, 1403, 196.5),
    (diff_levels, diff_colours, 444.3, 709, [-4, -2, 0, 2, 4], 0.48, 1408, 576.6),
]
for j, (levels, colours, top, bot, ticks, tip, label_x, label_y) in enumerate(bars):
    n = 7 + j
    xa, ya = f"x{n}", f"y{n}"
    lo, hi = levels[0], levels[-1]
    layout[f"xaxis{n}"] = dict(domain=dom_x(1328.3, 1345.7), anchor=ya, range=[0, 1], visible=False,
                               automargin=False)
    layout[f"yaxis{n}"] = dict(domain=dom_y(top, bot), anchor=xa, side="right", range=[lo - tip, hi + tip],
                               tickvals=ticks, ticks="outside", ticklen=5, tickwidth=1.2, tickcolor="#222",
                               tickfont=dict(family="DejaVu Sans", size=23, color="black"), showgrid=False,
                               zeroline=False, showline=False, automargin=False)
    body = colours[1:-1]
    fig.add_trace(go.Heatmap(x=[0, 1], y=levels, z=[[k] for k in range(len(body))], xaxis=xa, yaxis=ya,
                             colorscale=scale(body), zmin=0, zmax=len(body) - 1, showscale=False, hoverinfo="skip"))
    fig.add_trace(go.Scatter(x=[0, 0.5, 1, 0], y=[hi, hi + tip, hi, hi], xaxis=xa, yaxis=ya, mode="none",
                             fill="toself", fillcolor=colours[-1], hoverinfo="skip", showlegend=False))
    fig.add_trace(go.Scatter(x=[0, 0.5, 1, 0], y=[lo, lo - tip, lo, lo], xaxis=xa, yaxis=ya, mode="none",
                             fill="toself", fillcolor=colours[0], hoverinfo="skip", showlegend=False))
    fig.add_trace(go.Scatter(x=[0, 0.5, 1, 1, 0.5, 0, 0], y=[hi, hi + tip, hi, lo, lo - tip, lo, hi],
                             xaxis=xa, yaxis=ya, mode="lines", line=dict(color="#333", width=1.2),
                             cliponaxis=False, hoverinfo="skip", showlegend=False))
    annotations.append(dict(text="Wind speed (m/s)", x=label_x / W, y=1 - label_y / H, xref="paper", yref="paper",
                            showarrow=False, textangle=-90, xanchor="center", yanchor="middle",
                            font=dict(family="DejaVu Sans", size=24.4, color="black")))

fig.update_layout(width=W, height=H, margin=dict(l=0, r=0, t=0, b=0), paper_bgcolor="white",
                  plot_bgcolor="white", showlegend=False, annotations=annotations, **layout)
fig.write_html("out.html", post_script="document.body.style.margin='0';",
               config={"displayModeBar": False})
